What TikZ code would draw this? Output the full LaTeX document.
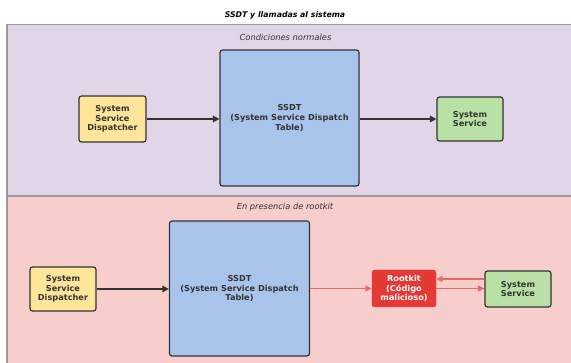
\documentclass[tikz,border=0pt]{standalone}
\usepackage{fontspec}
\setmainfont{DejaVu Sans}
\usetikzlibrary{arrows.meta,calc}
\definecolor{paneA}{HTML}{E1D5E7}
\definecolor{paneB}{HTML}{F8CECC}
\definecolor{paneline}{HTML}{9A9A9A}
\definecolor{ssdtfill}{HTML}{A9C4EB}
\definecolor{dispfill}{HTML}{FFE599}
\definecolor{ssfill}{HTML}{B9E0A5}
\definecolor{rkfill}{HTML}{E53935}
\definecolor{redline}{HTML}{EA6B66}
\definecolor{txt}{HTML}{333333}
\tikzset{
  box/.style={draw=txt, line width=1.2pt, rounded corners=2.5pt, align=center,
    font=\fontsize{8.2}{9.6}\selectfont\bfseries, text=txt, inner sep=0pt},
  rkbox/.style={draw=rkfill, fill=rkfill, rounded corners=2.5pt, align=center,
    font=\fontsize{8.2}{9.6}\selectfont\bfseries, text=white, inner sep=0pt},
  blackarrow/.style={draw=txt, line width=1.6pt, -{Triangle[length=6.5pt,width=6.5pt]}},
  redarrow/.style={draw=redline, line width=1.2pt, -{Triangle[length=6.5pt,width=6pt]}},
  panelabel/.style={font=\fontsize{8.3}{9}\selectfont\itshape, text=txt},
}
\begin{document}
\begin{tikzpicture}[x=1pt,y=-1pt]
\path[use as bounding box] (0,0) rectangle (571,363);
\clip (0,0) rectangle (571,363);
\fill[white] (0,0) rectangle (571,363);
% panes
\draw[fill=paneA, draw=paneline, line width=1.2pt] (7,24.5) rectangle (580,196);
\draw[fill=paneB, draw=paneline, line width=1.2pt] (7,196) rectangle (580,375);
% labels
\node[font=\fontsize{7.8}{9}\selectfont\bfseries\itshape, text=black] (title) at (285,15) {SSDT y llamadas al sistema};
\node[panelabel] (lblA) at (285.5,37) {Condiciones normales};
\node[panelabel] (lblB) at (285,207.5) {En presencia de rootkit};
% top
\node[box, fill=dispfill, minimum width=67pt, minimum height=46pt] (disp1) at (112.5,119) {System\\Service\\Dispatcher};
\node[box, fill=ssdtfill, minimum width=139pt, minimum height=136pt] (ssdt1) at (289.5,118) {SSDT\\(System Service Dispatch\\Table)};
\node[box, fill=ssfill, minimum width=66pt, minimum height=44pt] (ss1) at (470,119) {System\\Service};
\draw[blackarrow] (disp1.east) -- (disp1.east -| ssdt1.west);
\draw[blackarrow] (ss1.west -| ssdt1.east) -- (ss1.west);
% bottom
\node[box, fill=dispfill, minimum width=66pt, minimum height=44pt] (disp2) at (63,289) {System\\Service\\Dispatcher};
\node[box, fill=ssdtfill, minimum width=140pt, minimum height=135pt] (ssdt2) at (239.5,288.5) {SSDT\\(System Service Dispatch\\Table)};
\node[rkbox, minimum width=64pt, minimum height=37pt] (rk) at (404,288.5) {Rootkit\\(Código\\malicioso)};
\node[box, fill=ssfill, minimum width=66pt, minimum height=36pt] (ss2) at (518,289) {System\\Service};
\draw[blackarrow] (disp2.east) -- (disp2.east -| ssdt2.west);
\draw[redarrow] (ssdt2.east |- rk.west) -- (rk.west);
\draw[redarrow] (rk.east |- 0,288.5) -- (ss2.west |- 0,288.5);
\draw[redarrow] (ss2.west |- 0,279) -- (rk.east |- 0,279);
\end{tikzpicture}
\end{document}
